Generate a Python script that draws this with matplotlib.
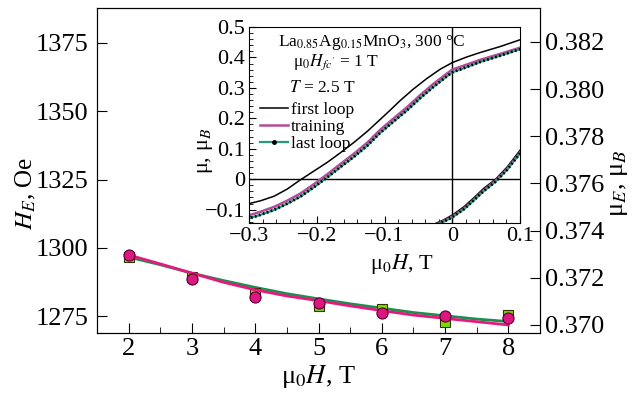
import numpy as np
import matplotlib.pyplot as plt
from matplotlib.lines import Line2D
from matplotlib.ticker import MultipleLocator

plt.rcParams['font.family'] = ['Liberation Serif', 'DejaVu Serif']
plt.rcParams['mathtext.fontset'] = 'stix'

# main panel: exchange bias vs cooling field
H_pts = [2, 3, 4, 5, 6, 7, 8]
HE_pts = [1296.6, 1289.3, 1283.4, 1278.8, 1277.7, 1272.7, 1275.5]
muE_pts = [0.37297, 0.37194, 0.37120, 0.37095, 0.37050, 0.37038, 0.37028]

H_line = [2, 2.5, 3, 3.5, 4, 4.5, 5, 5.5, 6, 6.5, 7, 7.5, 8]
HE_line = [1296.6, 1293.8, 1290.7, 1288.0, 1285.5, 1283.2, 1281.3,
           1279.5, 1277.9, 1276.3, 1275.1, 1273.9, 1273.0]
muE_line = [0.37297, 0.37259, 0.37220, 0.37181, 0.37149, 0.37123, 0.37103,
            0.37081, 0.37061, 0.37042, 0.37028, 0.37014, 0.37000]

# inset: hysteresis loops (upper and lower branches)
first_up_x = [-0.303, -0.283, -0.263, -0.244, -0.224, -0.204, -0.184, -0.165, -0.145,
              -0.125, -0.107, -0.092, -0.077, -0.058, -0.038, -0.018, 0.0, 0.022,
              0.041, 0.071, 0.1]
first_up_y = [-0.082, -0.071, -0.056, -0.033, -0.002, 0.027, 0.056, 0.087, 0.121,
              0.158, 0.195, 0.226, 0.258, 0.295, 0.330, 0.361, 0.383, 0.402,
              0.416, 0.436, 0.458]
train_up_x = [-0.303, -0.283, -0.263, -0.244, -0.224, -0.204, -0.184, -0.165, -0.145,
              -0.125, -0.107, -0.087, -0.067, -0.048, -0.028, -0.008, 0.0, 0.022,
              0.041, 0.071, 0.1]
train_up_y = [-0.121, -0.107, -0.091, -0.071, -0.047, -0.016, 0.017, 0.050, 0.084,
              0.121, 0.161, 0.199, 0.236, 0.275, 0.313, 0.347, 0.360, 0.377,
              0.392, 0.412, 0.432]
last_up_x = train_up_x
last_up_y = [-0.131, -0.117, -0.101, -0.081, -0.057, -0.026, 0.007, 0.040, 0.074,
             0.111, 0.151, 0.189, 0.226, 0.265, 0.303, 0.338, 0.351, 0.369,
             0.385, 0.406, 0.427]

first_lo_x = [-0.027, -0.013, 0.0, 0.017, 0.031, 0.046, 0.064, 0.081, 0.1]
first_lo_y = [-0.148, -0.134, -0.118, -0.091, -0.063, -0.031, 0.0, 0.040, 0.095]
train_lo_x = first_lo_x
train_lo_y = [-0.152, -0.138, -0.123, -0.097, -0.069, -0.037, -0.005, 0.034, 0.088]
last_lo_x = first_lo_x
last_lo_y = [-0.154, -0.140, -0.125, -0.099, -0.071, -0.040, -0.008, 0.031, 0.085]

fig = plt.figure(figsize=(6.39, 3.99), dpi=100)

ax = fig.add_axes([0.1518, 0.1654, 0.6933, 0.8145])
ax.plot(H_line, HE_line, color='#1a9050', lw=2, zorder=2)
ax.plot(H_pts, HE_pts, 's', ms=7, mfc='#77dd00', mec='#333300', mew=0.8, zorder=4)
ax.set_xlim(1.5, 8.5)
ax.set_ylim(1268.8, 1387.8)
ax.set_xticks(H_pts)
ax.set_yticks([1275, 1300, 1325, 1350, 1375])
ax.xaxis.set_minor_locator(MultipleLocator(0.5))
ax.tick_params(direction='in', labelsize=19, length=7)
ax.tick_params(which='minor', direction='in', length=4)
ax.tick_params(axis='y', right=False, pad=6)
ax.set_xlabel('μ$_0$$H$, T', fontsize=19, labelpad=2)
ax.set_ylabel('$H_E$, Oe', fontsize=18)
ax.yaxis.set_label_coords(-0.133, 0.43)

ax2 = ax.twinx()
ax2.plot(H_line, muE_line, color='#e8197d', lw=2, zorder=3)
ax2.plot(H_pts, muE_pts, 'o', ms=8, mfc='#dd1780', mec='#550030', mew=0.8, zorder=5)
ax2.set_ylim(0.36966, 0.38344)
ax2.set_yticks([0.370, 0.372, 0.374, 0.376, 0.378, 0.380, 0.382])
ax2.set_yticklabels(['0.370', '0.372', '0.374', '0.376', '0.378', '0.380', '0.382'])
ax2.tick_params(direction='in', labelsize=19, length=7)
ax2.set_ylabel('μ$_E$, μ$_B$', fontsize=19)
ax2.yaxis.set_label_coords(1.153, 0.46)

# inset
ins = fig.add_axes([0.3897, 0.4411, 0.4241, 0.4912])
ins.axhline(0, color='black', lw=1)
ins.axvline(0, color='black', lw=1)
ins.plot(first_up_x, first_up_y, color='black', lw=1.1)
ins.plot(first_lo_x, first_lo_y, color='black', lw=1.1)
ins.plot(train_up_x, train_up_y, color='#b04c9c', lw=1.8)
ins.plot(train_lo_x, train_lo_y, color='#b04c9c', lw=1.8)
ins.plot(last_up_x, last_up_y, color='#2a9a7a', lw=1.6)
ins.plot(last_up_x, last_up_y, color='black', lw=2, ls=(0, (0.6, 0.9)))
ins.plot(last_lo_x, last_lo_y, color='#2a9a7a', lw=1.6)
ins.plot(last_lo_x, last_lo_y, color='black', lw=2, ls=(0, (0.6, 0.9)))
ins.set_xlim(-0.3, 0.1)
ins.set_ylim(-0.144, 0.5)
ins.set_xticks([-0.3, -0.2, -0.1, 0, 0.1])
ins.set_xticklabels(['\u22120.3', '\u22120.2', '\u22120.1', '0', '0.1'])
ins.set_yticks([-0.1, 0, 0.1, 0.2, 0.3, 0.4, 0.5])
ins.set_yticklabels(['\u22120.1', '0', '0.1', '0.2', '0.3', '0.4', '0.5'])
ins.xaxis.set_minor_locator(MultipleLocator(0.02))
ins.yaxis.set_minor_locator(MultipleLocator(0.02))
ins.tick_params(direction='in', labelsize=16, length=5, pad=3)
ins.tick_params(which='minor', direction='in', length=3)
ins.set_xlabel('μ$_0$$H$, T', fontsize=16)
ins.xaxis.set_label_coords(0.565, -0.15)
ins.set_ylabel('μ, μ$_B$', fontsize=16)
ins.yaxis.set_label_coords(-0.125, 0.37)

ins.text(0.45, 0.92, 'La$_{0.85}$Ag$_{0.15}$MnO$_3$, 300 °C', transform=ins.transAxes,
         ha='center', va='center', fontsize=12.5)
ins.text(0.32, 0.82, "μ$_0$$H_{fc'}$ = 1 T", transform=ins.transAxes,
         ha='center', va='center', fontsize=12.5)
ins.text(0.27, 0.69, '$T$ = 2.5 T', transform=ins.transAxes,
         ha='center', va='center', fontsize=12.5)

handles = [Line2D([], [], color='black', lw=1.1),
           Line2D([], [], color='#b04c9c', lw=1.8),
           Line2D([], [], color='#2a9a7a', lw=1.6, marker='o', ms=2.5,
                  mfc='black', mec='black')]
ins.legend(handles, ['first loop', 'training', 'last loop'], loc='upper left',
           bbox_to_anchor=(-0.005, 0.68), frameon=False, fontsize=12.5,
           handlelength=1.6, handletextpad=0.2, labelspacing=0.06, borderpad=0.2)

fig.savefig('out.png', dpi=100)
